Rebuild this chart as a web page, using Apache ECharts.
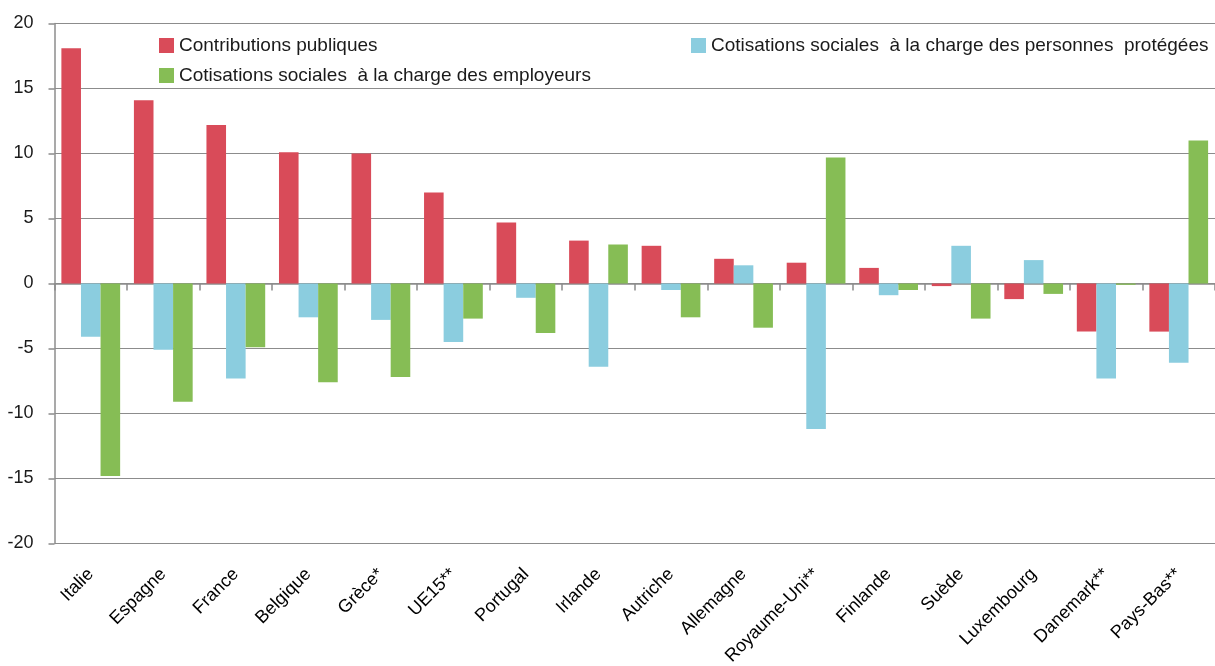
<!DOCTYPE html>
<html>
<head>
<meta charset="utf-8">
<script src="https://cdn.jsdelivr.net/npm/echarts@6/dist/echarts.min.js"></script>
<style>
  html, body { margin: 0; padding: 0; background: #fff; }
  #main { width: 1215px; height: 666px; }
</style>
</head>
<body>
<div id="main"></div>
<script>
(function () {
  var myChart = echarts.init(document.getElementById('main'));

  var categories = ['Italie', 'Espagne', 'France', 'Belgique', 'Grèce*', 'UE15**', 'Portugal', 'Irlande',
    'Autriche', 'Allemagne', 'Royaume-Uni**', 'Finlande', 'Suède', 'Luxembourg', 'Danemark**', 'Pays-Bas**'];
  var seriesNames = ['Contributions publiques',
    'Cotisations sociales  à la charge des personnes  protégées',
    'Cotisations sociales  à la charge des employeurs'];
  var contributions = [18.1, 14.1, 12.2, 10.1, 10.0, 7.0, 4.7, 3.3, 2.9, 1.9, 1.6, 1.2, -0.2, -1.2, -3.7, -3.7];
  var protegees = [-4.1, -5.1, -7.3, -2.6, -2.8, -4.5, -1.1, -6.4, -0.5, 1.4, -11.2, -0.9, 2.9, 1.8, -7.3, -6.1];
  var employeurs = [-14.8, -9.1, -4.9, -7.6, -7.2, -2.7, -3.8, 3.0, -2.6, -3.4, 9.7, -0.5, -2.7, -0.8, -0.1, 11.0];
  var colors = ['#d94b59', '#8bcddf', '#86bd55'];

  var gray = '#8c8c8c';
  var legendText = { fontFamily: 'Liberation Sans, Arial', fontSize: 19, color: '#1a1a1a' };

  function legendAt(name, left, top) {
    return {
      data: [name], left: left, top: top, padding: 0,
      icon: 'rect', itemWidth: 15, itemHeight: 15, itemGap: 4,
      textStyle: legendText, selectedMode: false
    };
  }

  var option = {
    animation: false,
    color: colors,
    textStyle: { fontFamily: 'Liberation Sans, Arial' },
    legend: [
      legendAt(seriesNames[0], 159, 36),
      legendAt(seriesNames[1], 691, 36),
      legendAt(seriesNames[2], 159, 66)
    ],
    grid: { left: 54.5, right: 0, top: 23.5, bottom: 122.5, containLabel: false, outerBoundsMode: 'none' },
    xAxis: [
      {
        type: 'category', data: categories, position: 'bottom',
        axisLine: { show: false, onZero: false },
        axisTick: { show: false },
        axisLabel: { interval: 0, rotate: 45, margin: 28, fontSize: 18, color: '#000' }
      },
      {
        type: 'category', data: categories, position: 'bottom',
        axisLine: { onZero: true, lineStyle: { color: gray, width: 1.5 } },
        axisTick: { show: true, interval: 0, length: 7, lineStyle: { color: gray, width: 1.5 } },
        axisLabel: { show: false }
      }
    ],
    yAxis: {
      type: 'value', min: -20, max: 20, interval: 5,
      axisLine: { show: true, lineStyle: { color: gray, width: 1.5 } },
      axisTick: { show: true, length: 6, lineStyle: { color: gray, width: 1.5 } },
      axisLabel: { fontSize: 18, color: '#1a1a1a', margin: 21 },
      splitLine: { lineStyle: { color: gray, width: 1.2 } }
    },
    series: [
      { name: seriesNames[0], type: 'bar', data: contributions, barGap: '0%', barCategoryGap: '19%' },
      { name: seriesNames[1], type: 'bar', data: protegees, barGap: '0%', barCategoryGap: '19%' },
      { name: seriesNames[2], type: 'bar', data: employeurs, barGap: '0%', barCategoryGap: '19%' }
    ]
  };

  myChart.setOption(option);
})();
</script>
</body>
</html>
